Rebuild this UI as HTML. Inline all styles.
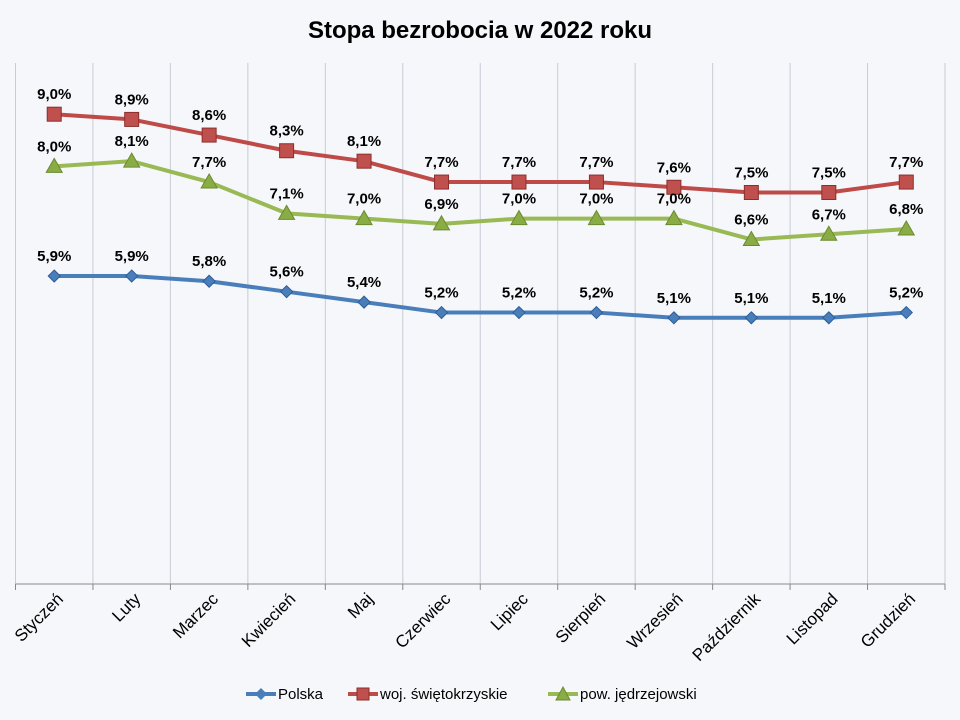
<!DOCTYPE html>
<html><head><meta charset="utf-8"><style>body{margin:0;background:#f5f7fa}svg{display:block}</style></head><body>
<svg width="960" height="720" xmlns="http://www.w3.org/2000/svg" font-family="Liberation Sans, sans-serif">
<rect width="960" height="720" fill="#f5f7fa"/>
<text x="480" y="38" text-anchor="middle" font-size="24" font-weight="bold" fill="#000">Stopa bezrobocia w 2022 roku</text>
<g stroke="#c8ccd4" stroke-width="1" id="grid"></g>
<line x1="15.5" y1="584" x2="945" y2="584" stroke="#888" stroke-width="1"/>
<g id="ticks" stroke="#888"></g>
<g id="labels" font-size="17" fill="#000"></g>
<g id="series"></g>
<g font-size="15" fill="#000">
<line x1="246" y1="694" x2="276" y2="694" stroke="#4a7ebb" stroke-width="4"/><path d="M261 688 L267 694 L261 700 L255 694Z" fill="#4a7ebb"/>
<text x="278" y="699">Polska</text>
<line x1="348" y1="694" x2="378" y2="694" stroke="#be4b48" stroke-width="4"/><rect x="357" y="688" width="12" height="12" fill="#c0504d" stroke="#8c2f2c"/>
<text x="380" y="699">woj. świętokrzyskie</text>
<line x1="548" y1="694" x2="578" y2="694" stroke="#98b954" stroke-width="4"/><path d="M563 687 L570 700 L556 700Z" fill="#8aac45" stroke="#6b8a30"/>
<text x="580" y="699">pow. jędrzejowski</text>
</g>
<script>
var ns="http://www.w3.org/2000/svg";
function el(t,a,p,txt){var e=document.createElementNS(ns,t);for(var k in a)e.setAttribute(k,a[k]);if(txt)e.textContent=txt;document.getElementById(p).appendChild(e);return e;}
var L=15.5,W=(945-15.5)/12,Y0=584,S=52.2;
var m=["Styczeń","Luty","Marzec","Kwiecień","Maj","Czerwiec","Lipiec","Sierpień","Wrzesień","Październik","Listopad","Grudzień"];
for(var i=0;i<=12;i++){var x=L+i*W;el("line",{x1:x,y1:63,x2:x,y2:584},"grid");el("line",{x1:x,y1:584,x2:x,y2:590},"ticks");}
m.forEach(function(n,i){var x=L+(i+0.5)*W+10,y=600;el("text",{x:x,y:y,"text-anchor":"end",transform:"rotate(-45 "+x+" "+y+")"},"labels",n);});
var P=[5.9,5.9,5.8,5.6,5.4,5.2,5.2,5.2,5.1,5.1,5.1,5.2],
R=[9.0,8.9,8.6,8.3,8.1,7.7,7.7,7.7,7.6,7.5,7.5,7.7],
G=[8.0,8.1,7.7,7.1,7.0,6.9,7.0,7.0,7.0,6.6,6.7,6.8];
function X(i){return L+(i+0.5)*W;}function Yv(v){return Y0-v*S;}
function line(d,c){el("polyline",{points:d.map(function(v,i){return X(i)+","+Yv(v)}).join(" "),fill:"none",stroke:c,"stroke-width":4,"stroke-linejoin":"round"},"series");}
line(P,"#4a7ebb");line(R,"#be4b48");line(G,"#98b954");
P.forEach(function(v,i){var x=X(i),y=Yv(v);el("path",{d:"M"+x+" "+(y-6)+" L"+(x+6)+" "+y+" L"+x+" "+(y+6)+" L"+(x-6)+" "+y+"Z",fill:"#4a7ebb",stroke:"#2c5d98"},"series");});
R.forEach(function(v,i){var x=X(i),y=Yv(v);el("rect",{x:x-7,y:y-7,width:14,height:14,fill:"#c0504d",stroke:"#8c2f2c"},"series");});
G.forEach(function(v,i){var x=X(i),y=Yv(v);el("path",{d:"M"+x+" "+(y-8)+" L"+(x+8)+" "+(y+6)+" L"+(x-8)+" "+(y+6)+"Z",fill:"#8aac45",stroke:"#6b8a30"},"series");});
function lab(d){d.forEach(function(v,i){el("text",{x:X(i),y:Yv(v)-15,"text-anchor":"middle","font-size":15,"font-weight":"bold"},"series",v.toFixed(1).replace(".",",")+"%");});}
lab(P);lab(R);lab(G);
</script>
</svg>
</body></html>
